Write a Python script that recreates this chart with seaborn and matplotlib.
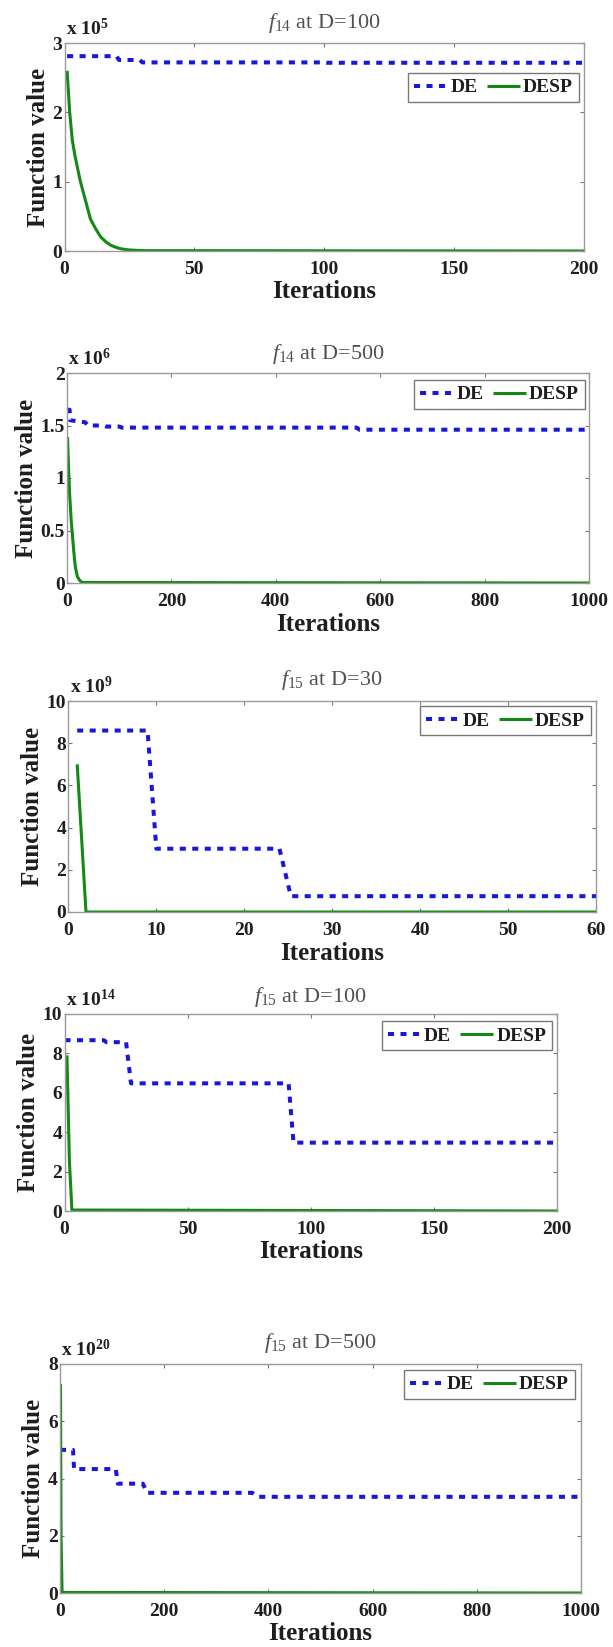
import numpy as np
import matplotlib
matplotlib.use("Agg")
import matplotlib.pyplot as plt
import seaborn as sns
from matplotlib.ticker import FuncFormatter, FixedLocator

# ---------------- data (mantissa values; real value = v * 10**exponent) ----------------
titles = [r"$f_{14}$ at D=100", r"$f_{14}$ at D=500", r"$f_{15}$ at D=30",
          r"$f_{15}$ at D=100", r"$f_{15}$ at D=500"]
exponents = [5, 6, 9, 14, 20]
xmax = [200, 1000, 60, 200, 1000]
ymax = [3, 2, 10, 10, 8]
xticks = [[0, 50, 100, 150, 200],
          [0, 200, 400, 600, 800, 1000],
          [0, 10, 20, 30, 40, 50, 60],
          [0, 50, 100, 150, 200],
          [0, 200, 400, 600, 800, 1000]]
yticks = [[0, 1, 2, 3],
          [0, 0.5, 1, 1.5, 2],
          [0, 2, 4, 6, 8, 10],
          [0, 2, 4, 6, 8, 10],
          [0, 2, 4, 6, 8]]

# f14, D=100
de1_x = [1, 20, 21, 29, 30, 100, 101, 200]
de1_y = [2.81, 2.81, 2.755, 2.755, 2.72, 2.72, 2.715, 2.715]
desp1_x = [1, 2, 3, 4, 5, 6, 8, 10, 12, 14, 16, 18, 20, 22, 25, 30, 200]
desp1_y = [2.6, 2.0, 1.6, 1.38, 1.2, 1.02, 0.74, 0.46, 0.32, 0.2, 0.13, 0.08,
           0.05, 0.03, 0.015, 0.005, 0.0]

# f14, D=500
de2_x = [0, 5, 6, 35, 40, 70, 75, 100, 105, 555, 560, 1000]
de2_y = [1.65, 1.65, 1.55, 1.53, 1.50, 1.50, 1.49, 1.49, 1.48, 1.48, 1.46, 1.46]
desp2_x = [1, 3, 5, 8, 10, 13, 16, 20, 25, 30, 1000]
desp2_y = [1.39, 1.1, 0.85, 0.6, 0.48, 0.3, 0.15, 0.06, 0.02, 0.005, 0.0]

# f15, D=30
de3_x = [1, 9, 10, 24, 25.3, 60]
de3_y = [8.6, 8.6, 3.0, 3.0, 0.75, 0.75]
desp3_x = [1, 2, 60]
desp3_y = [7.0, 0.0, 0.0]

# f15, D=100
de4_x = [0, 16, 17, 25, 27, 91, 93, 200]
de4_y = [8.67, 8.67, 8.57, 8.57, 6.48, 6.48, 3.47, 3.47]
desp4_x = [1, 2, 3, 200]
desp4_y = [7.9, 2.5, 0.05, 0.0]

# f15, D=500
de5_x = [0, 25, 27, 107, 111, 159, 167, 369, 380, 1000]
de5_y = [5.0, 5.0, 4.33, 4.33, 3.82, 3.82, 3.5, 3.5, 3.36, 3.36]
desp5_x = [1, 2, 4, 1000]
desp5_y = [7.3, 2.0, 0.02, 0.0]

de_x = [de1_x, de2_x, de3_x, de4_x, de5_x]
de_y = [de1_y, de2_y, de3_y, de4_y, de5_y]
desp_x = [desp1_x, desp2_x, desp3_x, desp4_x, desp5_x]
desp_y = [desp1_y, desp2_y, desp3_y, desp4_y, desp5_y]

# ---------------- style ----------------
sns.set_theme(style="ticks")
plt.rcParams["font.family"] = ["Liberation Serif", "DejaVu Serif"]
plt.rcParams["mathtext.fontset"] = "custom"
plt.rcParams["mathtext.rm"] = "Liberation Serif"
plt.rcParams["mathtext.it"] = "Liberation Serif:italic"
plt.rcParams["mathtext.bf"] = "Liberation Serif:bold"

W, H = 613, 1647
fig = plt.figure(figsize=(W / 100, H / 100), dpi=100)
fig.patch.set_facecolor("white")

# axes boxes in pixels: left, right, top, bottom
boxes = [(64.5, 584, 43, 251),
         (67, 589, 373, 583),
         (68.4, 596, 701, 912),
         (64.5, 557, 1014, 1211),
         (60, 581, 1364, 1593)]
legend_anchor = [(0.990, 0.856), (0.992, 0.967), (0.990, 0.976),
                 (0.990, 0.964), (0.988, 0.974)]
title_off = [15, 13.7, 16, 12.3, 16]  # px above axes top (baseline)

DE_COLOR = "#1818dc"
DESP_COLOR = "#138a13"
SPINE = "#9a9a9a"
TXT = "#1e1e1e"

for i in range(5):
    l, r, t, b = boxes[i]
    ax = fig.add_axes([l / W, 1 - b / H, (r - l) / W, (b - t) / H])
    scale = 10.0 ** exponents[i]
    sns.lineplot(x=de_x[i], y=np.array(de_y[i]) * scale, ax=ax, color=DE_COLOR,
                 linewidth=2.9, linestyle=(0, (1.5, 1.6)), label="DE",
                 estimator=None, sort=False)
    sns.lineplot(x=desp_x[i], y=np.array(desp_y[i]) * scale, ax=ax,
                 color=DESP_COLOR, linewidth=2.2, label="DESP",
                 estimator=None, sort=False)
    for ln in ax.get_lines():
        ln.set_dash_capstyle("butt")
        ln.set_solid_capstyle("butt")

    ax.set_xlim(0, xmax[i])
    ax.set_ylim(0, ymax[i] * scale)
    ax.xaxis.set_major_locator(FixedLocator(xticks[i]))
    ax.yaxis.set_major_locator(FixedLocator([v * scale for v in yticks[i]]))
    ax.xaxis.set_major_formatter(FuncFormatter(lambda v, p: f"{v:g}"))
    ax.yaxis.set_major_formatter(
        FuncFormatter(lambda v, p, s=scale: f"{v / s:g}"))

    for sp in ax.spines.values():
        sp.set_visible(True)
        sp.set_color(SPINE)
        sp.set_linewidth(1.0)
    ax.tick_params(axis="both", which="major", direction="in", length=3,
                   width=0.8, color="#777777", top=True, right=True,
                   labelsize=14, labelcolor=TXT)
    ax.tick_params(axis="x", pad=7)
    ax.tick_params(axis="y", pad=1.5)
    for lab in ax.get_xticklabels() + ax.get_yticklabels():
        lab.set_fontweight("bold")

    ax.set_xlabel("Iterations", fontsize=18, fontweight="bold", color=TXT,
                  labelpad=2)
    ax.set_ylabel("Function value", fontsize=18, fontweight="bold", color=TXT,
                  labelpad=2)

    ax.annotate(titles[i], xy=(0.5, 1.0), xycoords="axes fraction",
                xytext=(0, title_off[i] * 0.72), textcoords="offset points",
                ha="center", va="baseline", fontsize=16, color="#505050")
    ax.annotate(r"x 10$^{\mathbf{%d}}$" % exponents[i], xy=(0.0, 1.0),
                xycoords="axes fraction", xytext=(1, 3),
                textcoords="offset points", ha="left", va="bottom",
                fontsize=14, fontweight="bold", color=TXT)

    leg = ax.legend(loc="upper right", bbox_to_anchor=legend_anchor[i],
                    borderaxespad=0, ncol=2, frameon=True, fancybox=False,
                    handlelength=1.7, handletextpad=0.15, columnspacing=0.5,
                    borderpad=0.3, prop={"size": 14, "weight": "bold"})
    leg.get_frame().set_edgecolor("#555555")
    leg.get_frame().set_linewidth(1.0)
    for txt in leg.get_texts():
        txt.set_color(TXT)
    ax.set_facecolor("white")

fig.savefig("out.png", dpi=100, facecolor="white")
